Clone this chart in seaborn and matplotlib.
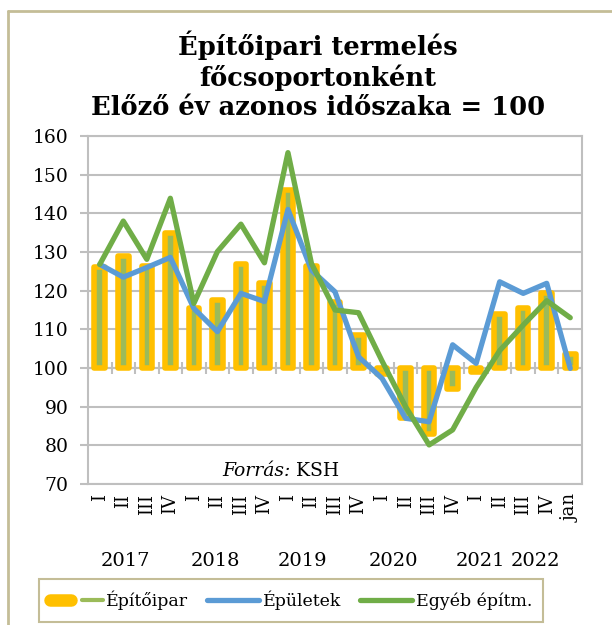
import numpy as np
import pandas as pd
import matplotlib
matplotlib.use('Agg')
import matplotlib.pyplot as plt
import matplotlib.transforms as mtransforms
import seaborn as sns
from matplotlib.lines import Line2D
from matplotlib.legend_handler import HandlerTuple

# Data (index, previous year same period = 100)
quarters = ['I', 'II', 'III', 'IV'] * 5 + ['jan']
years = ['2017', '2018', '2019', '2020', '2021', '2022']
epitoipar = [126, 129, 126.5, 135, 115.5, 117.5, 127, 122, 146, 126.5, 117,
             108.5, 98.5, 87, 83, 94.5, 99, 114, 115.5, 119.5, 103.5]
epuletek = [126.8, 123.5, 126, 128.6, 115.4, 109.4, 119.3, 117.2, 141, 125.3, 119.7,
            102.9, 97.3, 87, 86.1, 106, 101.2, 122.3, 119.3, 121.9, 99.9]
egyeb = [126.8, 138, 128.1, 143.9, 116.7, 130.1, 137.2, 127.2, 155.7, 127, 115,
         114.3, 101.8, 90, 80.1, 84, 95, 104.5, 111.1, 117.4, 113]

df = pd.DataFrame({'pos': np.arange(len(quarters)), 'label': quarters,
                   'Építőipar': epitoipar, 'Épületek': epuletek, 'Egyéb építm.': egyeb})

# Style
sns.set_style('white')
plt.rcParams['font.family'] = ['DejaVu Serif']
plt.rcParams['text.color'] = 'black'
plt.rcParams['xtick.labelcolor'] = 'black'
plt.rcParams['ytick.labelcolor'] = 'black'

YELLOW = '#FFC000'
OLIVE = '#9BBB59'
BLUE = '#5B9BD5'
GREEN = '#70AD47'
GRID = '#BFBFBF'
TAN = '#C4BD97'

fig = plt.figure(figsize=(6.12, 6.25), dpi=100)
ax = fig.add_axes([0.1438, 0.2256, 0.8072, 0.5568])

# Bars start from the 100 line
ax.bar(df['pos'], df['Építőipar'] - 100, bottom=100, width=0.45, color=OLIVE,
       edgecolor=YELLOW, linewidth=4, joinstyle='round', zorder=2)
sns.lineplot(data=df, x='pos', y='Épületek', color=BLUE, linewidth=3.8, ax=ax, zorder=3)
sns.lineplot(data=df, x='pos', y='Egyéb építm.', color=GREEN, linewidth=3.8, ax=ax, zorder=4)

# Category axis crossing at 100
ax.axhline(100, color=GRID, lw=1.5, zorder=1.5)
ax.plot(np.arange(-0.5, len(quarters)), [100] * (len(quarters) + 1), ls='none',
        marker='|', ms=8, mew=1.5, color=GRID, zorder=1.5)

ax.set_xlim(-0.5, len(quarters) - 0.5)
ax.set_ylim(70, 160)
ax.set_yticks(range(70, 161, 10))
ax.set_xticks(df['pos'])
ax.set_xticklabels(quarters, rotation=90)
ax.set_xlabel('')
ax.set_ylabel('')
ax.grid(axis='y', color=GRID, lw=1.5)
ax.grid(axis='x', visible=False)
for s in ax.spines.values():
    s.set_color(GRID)
    s.set_linewidth(1.5)
ax.tick_params(axis='y', length=6, color=GRID, width=1.5, labelsize=13.5, pad=8, left=True)
ax.tick_params(axis='x', length=0, labelsize=13, pad=7)

# Year labels under the quarter labels
trans = mtransforms.blended_transform_factory(ax.transData, ax.transAxes)
year_x = [1.07, 4.9, 8.6, 12.5, 16.2, 18.5]
for x, yr in zip(year_x, years):
    ax.text(x, -0.222, yr, transform=trans, ha='center', va='center', fontsize=14)

# Source note
src = ax.text(0.271, 0.012, 'Forrás:', style='italic', transform=ax.transAxes,
              fontsize=13.5, va='bottom', ha='left')
ax.annotate(' KSH', xy=(1, 0), xycoords=src, va='bottom', ha='left', fontsize=13.5)

# Title
fig.text(0.519, 0.879, 'Építőipari termelés\nfőcsoportonként\nElőző év azonos időszaka = 100',
         ha='center', va='center', fontsize=18.5, fontweight='bold', linespacing=1.2)

# Legend
h_bar = (Line2D([], [], color=YELLOW, lw=9, solid_capstyle='round'),
         Line2D([], [], color=OLIVE, lw=3))
h_blue = Line2D([], [], color=BLUE, lw=3.8, solid_capstyle='round')
h_green = Line2D([], [], color=GREEN, lw=3.8, solid_capstyle='round')
leg = fig.legend([h_bar, h_blue, h_green], ['Építőipar', 'Épületek', 'Egyéb építm.'],
                 handler_map={tuple: HandlerTuple(ndivide=None)},
                 loc='center', bbox_to_anchor=(0.476, 0.0392), ncol=3, fontsize=12.5,
                 handlelength=3.0, handletextpad=0.2, columnspacing=1.1,
                 fancybox=False, edgecolor=TAN, framealpha=1, borderpad=0.65)
leg.get_frame().set_linewidth(1.5)

# Outer frame (left and top edges visible)
fig.add_artist(Line2D([8 / 612, 8 / 612], [0, 1 - 11 / 625], transform=fig.transFigure,
                      color=TAN, lw=2))
fig.add_artist(Line2D([8 / 612, 1], [1 - 11 / 625, 1 - 11 / 625], transform=fig.transFigure,
                      color=TAN, lw=2))

fig.savefig('out.png', dpi=100)
